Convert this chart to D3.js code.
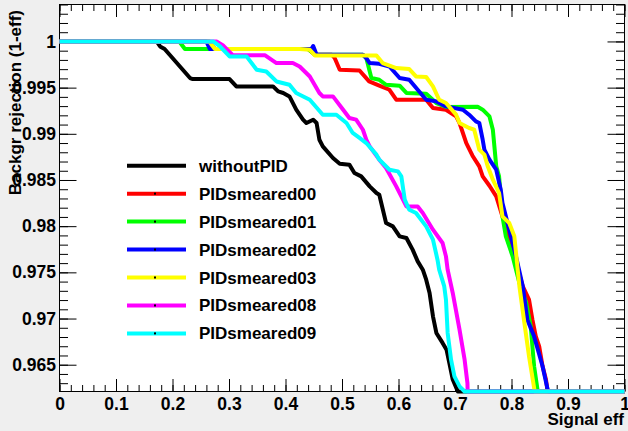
<!DOCTYPE html>
<html>
<head>
<meta charset="utf-8">
<script src="https://cdn.jsdelivr.net/npm/d3@7"></script>
<style>
body { margin: 0; background: #efefef; }
svg { display: block; }
text { font-family: "Liberation Sans", Arial, sans-serif; font-weight: bold; fill: #000; }
</style>
</head>
<body>
<svg></svg>
<script>
var width = 628;
var height = 431;

// axis ticks
var xTicks = [0, 0.1, 0.2, 0.3, 0.4, 0.5, 0.6, 0.7, 0.8, 0.9, 1];
var yTicks = [0.965, 0.97, 0.975, 0.98, 0.985, 0.99, 0.995, 1];

// legend entries
var names = ["withoutPID", "PIDsmeared00", "PIDsmeared01", "PIDsmeared02",
             "PIDsmeared03", "PIDsmeared08", "PIDsmeared09"];
var colors = ["#000000", "#ff0000", "#00ff00", "#0000ff", "#ffff00", "#ff00ff", "#00ffff"];

// [signal eff, backgr rejection]
var withoutPID = [[0,1],[0.172,1],[0.178,0.99946],[0.186,0.99918],[0.231,0.99604],[0.236,0.99593],
  [0.301,0.99593],[0.313,0.99513],[0.378,0.99513],[0.387,0.99459],[0.396,0.99442],[0.407,0.99405],
  [0.419,0.99261],[0.431,0.99153],[0.437,0.99117],[0.449,0.99153],[0.455,0.99117],[0.460,0.98936],
  [0.466,0.98864],[0.484,0.98738],[0.496,0.98676],[0.513,0.98666],[0.522,0.98576],[0.534,0.98539],
  [0.549,0.98431],[0.561,0.98359],[0.566,0.98341],[0.578,0.98035],[0.590,0.97998],[0.602,0.97890],
  [0.614,0.97872],[0.625,0.97746],[0.634,0.97619],[0.643,0.97529],[0.649,0.97421],[0.655,0.97277],
  [0.661,0.97024],[0.667,0.96844],[0.678,0.96736],[0.685,0.96663],[0.690,0.96519],[0.696,0.96339],
  [0.705,0.9621],[1,0.9621]];

var PIDsmeared00 = [[0,1],[0.265,1],[0.275,0.99918],[0.44,0.99918],[0.452,0.99856],[0.482,0.99856],
  [0.487,0.9982],[0.496,0.99694],[0.531,0.99686],[0.548,0.99567],[0.566,0.99521],[0.584,0.99477],
  [0.596,0.99369],[0.649,0.99369],[0.661,0.99279],[0.684,0.9926],[0.702,0.99188],[0.708,0.99117],
  [0.720,0.98900],[0.731,0.98763],[0.743,0.98647],[0.749,0.98539],[0.761,0.98438],[0.773,0.98322],
  [0.784,0.98106],[0.796,0.97890],[0.808,0.97602],[0.820,0.97348],[0.831,0.97204],[0.837,0.96988],
  [0.843,0.96807],[0.849,0.96699],[0.855,0.96483],[0.861,0.96339],[0.864,0.9621],[1,0.9621]];

var PIDsmeared01 = [[0,1],[0.212,1],[0.222,0.99918],[0.44,0.99918],[0.452,0.99856],[0.537,0.99856],
  [0.543,0.9982],[0.552,0.99604],[0.566,0.99585],[0.578,0.99531],[0.602,0.99521],[0.614,0.99442],
  [0.649,0.99434],[0.667,0.99333],[0.684,0.9929],[0.740,0.99293],[0.749,0.99261],[0.761,0.99188],
  [0.767,0.99044],[0.773,0.98647],[0.778,0.98539],[0.784,0.98106],[0.790,0.97890],[0.802,0.97673],
  [0.814,0.97385],[0.826,0.97169],[0.834,0.96915],[0.840,0.96483],[0.846,0.9623],[0.847,0.9621],
  [1,0.9621]];

var PIDsmeared02 = [[0,1],[0.260,1],[0.266,0.99918],[0.446,0.99918],[0.449,0.9995],[0.455,0.99856],
  [0.537,0.99856],[0.543,0.9982],[0.549,0.99766],[0.566,0.99759],[0.584,0.99729],[0.602,0.99604],
  [0.619,0.99585],[0.649,0.99369],[0.667,0.99351],[0.684,0.99297],[0.714,0.99261],[0.725,0.99207],
  [0.737,0.99134],[0.743,0.99117],[0.749,0.98936],[0.752,0.98828],[0.761,0.98720],[0.773,0.98611],
  [0.781,0.98395],[0.784,0.98251],[0.796,0.97962],[0.808,0.97673],[0.820,0.97348],[0.828,0.96988],
  [0.840,0.96807],[0.855,0.96483],[0.864,0.9623],[0.866,0.9621],[1,0.9621]];

var PIDsmeared03 = [[0,1],[0.265,1],[0.275,0.99918],[0.425,0.99918],[0.443,0.9991],[0.452,0.99849],
  [0.561,0.99849],[0.572,0.99766],[0.596,0.99712],[0.619,0.99701],[0.631,0.99621],[0.649,0.99615],
  [0.661,0.99513],[0.672,0.99369],[0.684,0.99333],[0.702,0.99207],[0.708,0.99117],[0.725,0.99063],
  [0.734,0.99045],[0.743,0.98828],[0.752,0.98774],[0.758,0.98648],[0.767,0.98503],[0.778,0.98359],
  [0.784,0.98106],[0.796,0.98035],[0.805,0.97890],[0.808,0.97710],[0.814,0.97348],[0.822,0.96988],
  [0.831,0.96591],[0.840,0.9625],[0.841,0.9621],[1,0.9621]];

var PIDsmeared08 = [[0,1],[0.278,1],[0.289,0.9996],[0.307,0.9985],[0.364,0.9985],[0.384,0.99766],
  [0.413,0.99766],[0.425,0.99729],[0.443,0.99621],[0.460,0.99442],[0.466,0.99405],[0.484,0.99405],
  [0.502,0.99261],[0.513,0.99171],[0.525,0.99153],[0.537,0.99044],[0.543,0.98936],[0.549,0.98864],
  [0.566,0.98720],[0.578,0.98630],[0.596,0.98431],[0.614,0.98214],[0.634,0.98214],[0.643,0.98143],
  [0.661,0.97962],[0.678,0.97818],[0.684,0.97673],[0.687,0.97529],[0.696,0.97277],[0.708,0.96880],
  [0.717,0.96555],[0.722,0.96303],[0.7224,0.9621],[1,0.9621]];

var PIDsmeared09 = [[0,1],[0.272,1],[0.284,0.99946],[0.301,0.99838],[0.331,0.99838],[0.349,0.99694],
  [0.366,0.99675],[0.384,0.99567],[0.407,0.99531],[0.419,0.99442],[0.443,0.99369],[0.466,0.99207],
  [0.490,0.99207],[0.508,0.99117],[0.519,0.99009],[0.531,0.98955],[0.543,0.98900],[0.561,0.98774],
  [0.566,0.98720],[0.584,0.98611],[0.599,0.98593],[0.605,0.98539],[0.611,0.98287],[0.619,0.98178],
  [0.631,0.98143],[0.649,0.97998],[0.661,0.97854],[0.669,0.97637],[0.672,0.97529],[0.681,0.97348],
  [0.684,0.97204],[0.687,0.96844],[0.693,0.96555],[0.699,0.96374],[0.708,0.96266],[0.717,0.9621],
  [1,0.9621]];

var curves = [withoutPID, PIDsmeared00, PIDsmeared01, PIDsmeared02,
              PIDsmeared03, PIDsmeared08, PIDsmeared09];

var svg = d3.select("svg")
            .attr("width", width)
            .attr("height", height);

var frameL = 59.5, frameR = 624.5, frameT = 4.5, frameB = 391.5;

var x = d3.scaleLinear().domain([0, 1]).range([frameL, frameR]);
var y = d3.scaleLinear().domain([0.9621, 1.004]).range([frameB, frameT]).clamp(true);

// plot area
svg.append("rect")
   .attr("x", frameL).attr("y", frameT)
   .attr("width", frameR - frameL).attr("height", frameB - frameT)
   .attr("fill", "#fff");

// minor ticks positions
var xMinor = d3.range(0, 1.0001, 0.02);
var yMinor = d3.range(0.963, 1.0041, 0.001);

function tickAxis(axis, transform) {
  var g = svg.append("g").attr("transform", transform).call(axis);
  g.select(".domain").remove();
  g.selectAll("line").attr("stroke", "#000");
  g.attr("font-family", null).attr("font-size", null);
  return g;
}

// bottom
tickAxis(d3.axisBottom(x).tickValues(xMinor).tickSize(-6.5).tickFormat(""), "translate(0," + frameB + ")");
var gx = tickAxis(d3.axisBottom(x).tickValues(xTicks).tickSize(-12.5).tickPadding(6).tickFormat(d3.format("~g")),
                  "translate(0," + frameB + ")");
gx.selectAll("text").attr("font-size", 17.5);
// top
tickAxis(d3.axisTop(x).tickValues(xMinor).tickSize(-6.5).tickFormat(""), "translate(0," + frameT + ")");
tickAxis(d3.axisTop(x).tickValues(xTicks).tickSize(-12.5).tickFormat(""), "translate(0," + frameT + ")");
// left
tickAxis(d3.axisLeft(y).tickValues(yMinor).tickSize(-8.5).tickFormat(""), "translate(" + frameL + ",0)");
var gy = tickAxis(d3.axisLeft(y).tickValues(yTicks).tickSize(-17).tickPadding(3.5).tickFormat(d3.format("~g")),
                  "translate(" + frameL + ",0)");
gy.selectAll("text").attr("font-size", 17.5);
// right
tickAxis(d3.axisRight(y).tickValues(yMinor).tickSize(-8.5).tickFormat(""), "translate(" + frameR + ",0)");
tickAxis(d3.axisRight(y).tickValues(yTicks).tickSize(-17).tickFormat(""), "translate(" + frameR + ",0)");

svg.append("rect")
   .attr("x", frameL).attr("y", frameT)
   .attr("width", frameR - frameL).attr("height", frameB - frameT)
   .attr("fill", "none").attr("stroke", "#000");

// curves
var line = d3.line().x(d => x(d[0])).y(d => y(d[1]));

svg.selectAll("path.curve")
   .data(curves)
   .enter()
   .append("path")
     .attr("class", "curve")
     .attr("d", line)
     .attr("fill", "none")
     .attr("stroke", (d, i) => colors[i])
     .attr("stroke-width", 4)
     .attr("stroke-linejoin", "round");

// legend
var legend = svg.selectAll("g.leg")
                .data(names)
                .enter()
                .append("g")
                  .attr("class", "leg")
                  .attr("transform", (d, i) => "translate(127," + (165.7 + i * 27.95) + ")");
legend.append("line")
      .attr("x1", 0).attr("x2", 59)
      .attr("stroke", (d, i) => colors[i])
      .attr("stroke-width", 4);
legend.filter((d, i) => i > 0)
      .append("rect")
      .attr("x", 27).attr("y", -1).attr("width", 2).attr("height", 2)
      .attr("fill", "#000");
legend.append("text")
      .attr("x", 72).attr("y", 6)
      .attr("font-size", 17)
      .text(d => d);

// axis titles
svg.append("text")
   .attr("x", 624).attr("y", 425)
   .attr("text-anchor", "end")
   .attr("font-size", 17)
   .text("Signal eff");

svg.append("text")
   .attr("transform", "translate(21,10) rotate(-90)")
   .attr("text-anchor", "end")
   .attr("font-size", 17)
   .text("Backgr rejection (1-eff)");
</script>
</body>
</html>
